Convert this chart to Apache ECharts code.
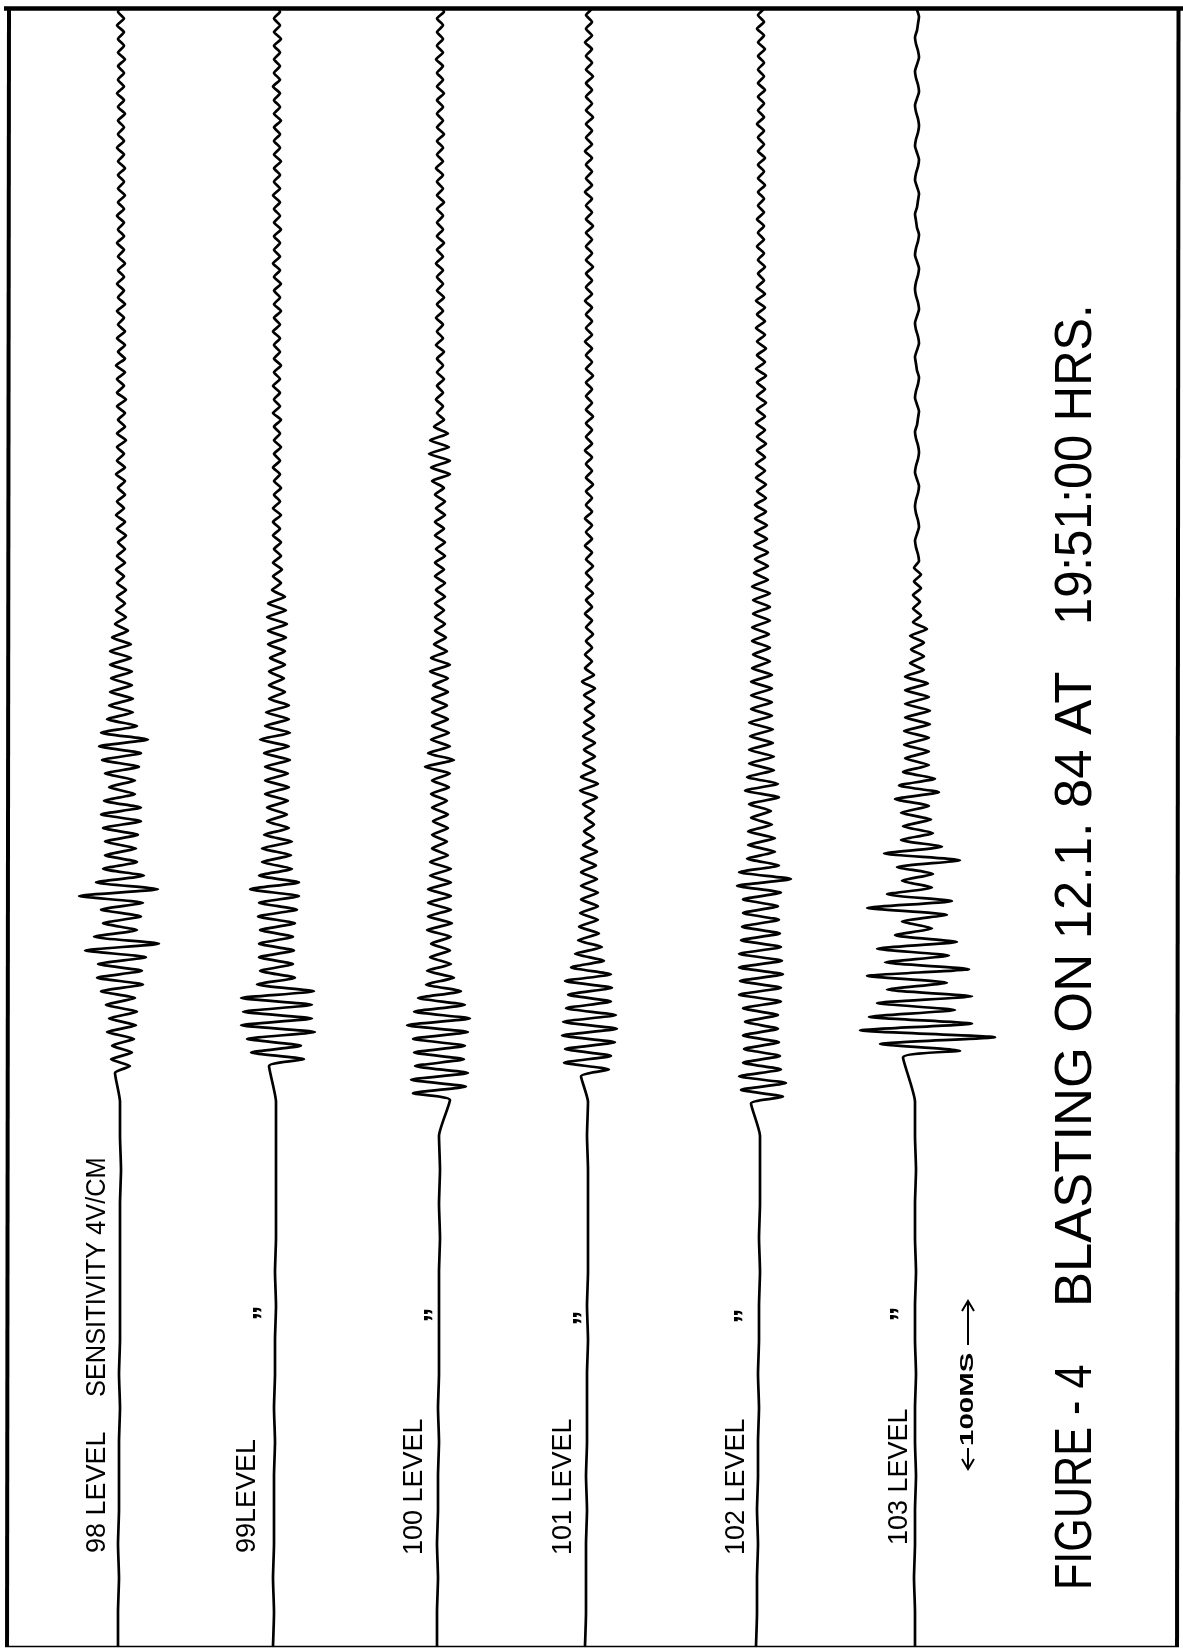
<!DOCTYPE html>
<html>
<head>
<meta charset="utf-8">
<script src="https://cdn.jsdelivr.net/npm/echarts/dist/echarts.min.js"></script>
<style>
html,body{margin:0;padding:0;background:#fff;}
#c{width:1183px;height:1648px;}
</style>
</head>
<body>
<div id="c"></div>
<script>
// ---------------- DATA (read from the record) ----------------
const levelLabels = ['98 LEVEL', '99LEVEL', '100 LEVEL', '101 LEVEL', '102 LEVEL', '103 LEVEL'];
const sensitivityText = 'SENSITIVITY 4V/CM';
const dittoMark = '\u201D';
const titleParts = ['FIGURE - 4', 'BLASTING ON 12.1. 84 AT', '19:51:00 HRS.'];
const scaleBarText = '100MS';

// time axis (ms, increasing upward)
const T_MAX_MS = 962;
const STEP_MS = 4;        // spacing of the read peaks
const BASE_STEP_MS = 20;  // spacing of the pre-onset baseline readings
const onsetMs = [337, 341, 321, 335, 319, 346];

// pre-onset baseline deflection (sampled every 20 ms)
const base98  = [-3,-3,-2,-3,-2,-2,-2,-1,-2,-1,-1,-1,-1,-1,0,-1,-1];
const base99  = [-4,-3,-4,-3,-3,-3,-2,-3,-2,-2,-1,-2,-1,-1,-1,-1,-1];
const base100 = [-3,-3,-2,-3,-2,-2,-1,-2,-1,-1,-1,-1,0,-1,0,-1];
const base101 = [-4,-3,-3,-3,-2,-3,-2,-2,-2,-1,-2,-1,-1,-1,-1,-2,-1];
const base102 = [-5,-4,-4,-3,-4,-3,-3,-2,-3,-2,-2,-1,-2,-1,-1,-1];
const base103 = [-2,-2,-3,-2,-2,-1,-2,-2,-1,-2,-2,-1,-2,-2,-1,-2,-2];

// deflection peaks after onset (every 4 ms)
const sig98 = [
-6,9,-10,11,-9,13,-14,15,-12,16,
-15,14,-20,22,-24,21,-23,25,-36,38,
-27,16,-18,20,-20,22,-42,37,-25,23,
-18,16,-16,15,-16,17,-18,20,-20,20,
-17,14,-12,14,-16,18,-19,20,-22,27,
-20,16,-14,12,-12,12,-11,11,-10,11,
-11,10,-11,10,-9,7,-6,5,
-5,4,-4,5,-4,3,-5,4,-4,4,
-3,5,-4,4,-5,3,-4,4,-3,4,
-5,4,-4,3,-4,5,-4,4,-3,4,
-4,5,-4,3,-4,4,-5,4,-3,4,
-4,4,-3,3,-4,4,-3,3,-4,3,
-3,4,-3,3,-4,3,-3,3,-4,3,
-3,4,-3,3,-3,4,-3,3,-4,3,
-3,3,-3,4,-3,3,-4,3,-3,3,
-3,4,-3,3,-3,3,-4,3,-3,3
];
const sig99 = [
-8,27,-26,24,-30,38,-36,35,-34,35,
-36,37,-20,18,-17,16,-18,17,-18,16,
-17,18,-19,20,-18,22,-27,22,-18,15,
-15,14,-15,15,-13,12,-10,10,-10,11,
-12,12,-12,11,-12,13,-13,12,-17,13,
-12,12,-11,12,-8,8,-8,7,-8,8,
-7,8,-9,9,-9,10,-10,9,-9,8,
-5,
4,-4,5,-4,4,-3,4,-4,3,-4,
4,-4,3,-3,4,-3,3,-4,3,-3,
4,-3,3,-3,4,-4,3,-3,3,-4,
3,-3,4,-3,3,-3,3,-4,3,-3,
4,-3,3,-3,4,-3,3,-4,3,-3,
3,-3,4,-3,3,-3,3,-4,3,-3,
3,-3,4,-3,3,-3,3,-3,4,-3,
3,-3,3,-4,3,-3,3,-3,3,-3,
4,-3,3,-3,3,-3
];
const sig100 = [
10,-27,26,-29,28,-25,24,-26,25,-27,
28,-33,30,-26,25,-22,21,-14,14,-13,
11,-10,10,-9,11,-13,12,-12,11,-12,
11,-12,11,-10,11,-10,8,-8,7,-8,
8,-7,8,-8,7,-9,9,-8,10,-15,
14,-12,10,-9,9,-8,8,-8,7,-8,
8,-7,8,-10,10,-9,7,-6,6,-5,
5,-5,4,-5,5,-4,5,-5,4,-5,5,-4,5,-5,4,-5,5,-4,5,-5,4,
-8,10,-9,10,-11,9,-10,8,-6,
4,-3,3,-4,3,-3,4,-3,3,-3,
4,-4,3,-3,3,-4,3,-3,4,-3,
3,-3,3,-4,3,-3,4,-3,3,-3,
3,-3,4,-3,3,-3,3,-4,3,-3,
3,-3,4,-3,3,-3,3,-3,4,-3,
3,-3,3,-4,3,-3,3,-3,3,-3,
4,-3
];
const sig101 = [
-8,20,-25,22,-24,26,-27,28,-26,27,
-23,22,-21,23,-24,22,-18,15,-14,13,
-11,10,-10,9,-9,9,-8,9,-8,8,
-8,7,-8,8,-6,5,-5,5,-4,5,
-6,8,-9,9,-8,6,-6,6,-5,6,
-6,5,-5,5,-4,5,-5,6,-7,5,
-4,3,-4,3,-3,4,-3,3,-4,3,
-3,4,-3,3,-3,4,-3,3,-4,3,
-3,3,-4,3,-3,3,-3,4,-3,3,
-3,3,-4,3,-3,3,-3,4,-3,3,
-3,3,-3,4,-3,3,-3,3,-4,3,
-3,3,-3,3,-4,3,-3,3,-3,4,
-3,3,-3,3,-3,4,-3,3,-3,3,
-4,3,-3,3,-3,3,-4,3,-3,3,
-3,4,-3,3,-3,3,-3,4,-3,3,
-3,3,-4,3,-3,3,-3,3,-4,3
];
const sig102 = [
-10,22,-20,25,-22,20,-18,19,-17,18,
-18,17,-16,17,-18,20,-22,20,-21,22,
-22,21,-22,20,-20,19,-19,18,-18,17,
-18,20,-24,30,-22,18,-14,14,-13,14,
-13,11,-10,10,-12,18,-16,17,-14,13,
-12,13,-12,12,-11,12,-12,11,-10,11,
-10,11,-10,11,-9,9,-8,9,-9,8,
-9,9,-8,9,-8,9,-9,7,-7,7,
-6,7,-7,6,-6,6,-6,5,-6,
5,-4,5,-5,4,-5,4,-4,5,-4,
4,-5,4,-4,5,-4,4,-4,5,-5,
4,-4,5,-4,4,-5,4,-4,4,-5,
4,
-4,3,-3,4,-3,3,-4,3,-3,3,
-4,3,-3,3,-3,4,-3,3,-3,4,
-3,3,-3,3,-4,3,-3,3,-3,4,
-3,3,-3,3,-3,4,-3,3,-4,3,
-3,3,-3,4
];
const sig103 = [
-14,43,-37,78,-57,55,-48,38,-40,55,
-30,30,-50,52,-32,32,-40,40,-22,15,
-15,30,-50,35,-30,15,-15,16,-20,43,
-33,25,-16,16,-14,14,-16,12,-22,22,
-18,18,-14,12,-12,12,-13,12,-13,13,
-12,13,-12,12,-12,11,-12,7,-7,7,
-6,7,-7,10,
-4,4,-4,3,-4,4,-3,4,-3,
2,1,-1,-2,0,2,1,-1,-2,-1,
1,2,0,-2,-1,1,2,1,-1,-2,
0,1,2,0,-2,-1,1,2,0,-1,
-2,0,2,1,-1,-2,0,2,1,-1,
-2,-1,1,2,0,-2,-1,1,2,0,
-1,-2,0,1,2,0,-2,-1,1,2,
0,-2,-1,1,2,1,-1,-2,0,2,
1,-1,-2,0,2,1,-1,-2,0,1,
2,0
];

// ---------------- LAYOUT ----------------
const W = 1183, H = 1648;
const traceCenterPx = [121, 277, 440, 589, 761, 917];
const bases = [base98, base99, base100, base101, base102, base103];
const sigs = [sig98, sig99, sig100, sig101, sig102, sig103];

const grid = [], xAxis = [], yAxis = [], series = [];
sigs.forEach((sig, k) => {
  const cx = traceCenterPx[k];
  grid.push({left: cx - 100, width: 200, top: 10, bottom: 2});
  xAxis.push({gridIndex: k, type: 'value', min: -100, max: 100, show: false});
  yAxis.push({gridIndex: k, type: 'value', min: 0, max: T_MAX_MS, show: false});
  const data = bases[k].map((v, j) => [v, j * BASE_STEP_MS])
    .concat(sig.map((v, i) => [v, onsetMs[k] + i * STEP_MS]));
  series.push({
    type: 'line', name: levelLabels[k], xAxisIndex: k, yAxisIndex: k,
    data: data, symbol: 'none', smooth: 0.18, silent: true,
    lineStyle: {color: '#000', width: 2.7, join: 'round', cap: 'round'}
  });
});

const FONT = '"Liberation Sans", Arial, "DejaVu Sans", sans-serif';
function vText(text, x, y, size, extra) {
  return Object.assign({
    type: 'text', x: x, y: y, rotation: Math.PI / 2, silent: true,
    style: {text: text, font: size + 'px ' + FONT, fill: '#000', align: 'left', verticalAlign: 'middle'}
  }, extra || {});
}
function line(x1, y1, x2, y2, w) {
  return {type: 'line', silent: true, shape: {x1: x1, y1: y1, x2: x2, y2: y2},
          style: {stroke: '#000', lineWidth: w}};
}
function head(pts) {
  return {type: 'polyline', silent: true, shape: {points: pts},
          style: {stroke: '#000', lineWidth: 2, fill: null}};
}

const labelX = [98, 248, 415, 564, 737, 900];
const labelY = [1553, 1553, 1555, 1555, 1555, 1545];
const dittoPos = [[250, 1313], [421, 1315], [570, 1318], [731, 1316], [887, 1314]];

const graphic = [
  line(4, 8.5, W, 8.5, 4.5),
  line(9, 7, 7, 1646, 4),
  line(1178.5, 7, 1177, 1646, 4),
  line(5, 1646.5, 1179, 1646.5, 1.6)
];
levelLabels.forEach((t, k) => graphic.push(vText(t, labelX[k], labelY[k], 27)));
graphic.push(vText(sensitivityText, 98, 1397, 27, {scaleX: 0.94}));
dittoPos.forEach(p => graphic.push({
  type: 'text', x: p[0], y: p[1], rotation: Math.PI / 2, silent: true,
  style: {text: dittoMark, font: 'bold 30px ' + FONT, fill: '#000', align: 'center', verticalAlign: 'top'}
}));
// scale bar  <-100MS->
graphic.push(line(968, 1468, 968, 1448, 2));
graphic.push(head([[962, 1459], [968, 1469], [974, 1459]]));
graphic.push(vText(scaleBarText, 968, 1446, 19, {scaleX: 1.55, style: {text: scaleBarText, font: 'bold 19px ' + FONT, fill: '#000', align: 'left', verticalAlign: 'middle'}}));
graphic.push(line(968, 1345, 968, 1302, 2));
graphic.push(head([[962, 1311], [968, 1301], [974, 1311]]));
// title
graphic.push(vText(titleParts[0], 1077, 1590, 52, {scaleX: 0.83}));
graphic.push(vText(titleParts[1], 1077, 1307, 52, {scaleX: 1.01}));
graphic.push(vText(titleParts[2], 1077, 625, 52, {scaleX: 0.94}));

const chart = echarts.init(document.getElementById('c'), null, {renderer: 'canvas', width: W, height: H});
chart.setOption({
  backgroundColor: '#fff',
  animation: false,
  grid: grid, xAxis: xAxis, yAxis: yAxis, series: series,
  graphic: graphic
});
</script>
</body>
</html>
